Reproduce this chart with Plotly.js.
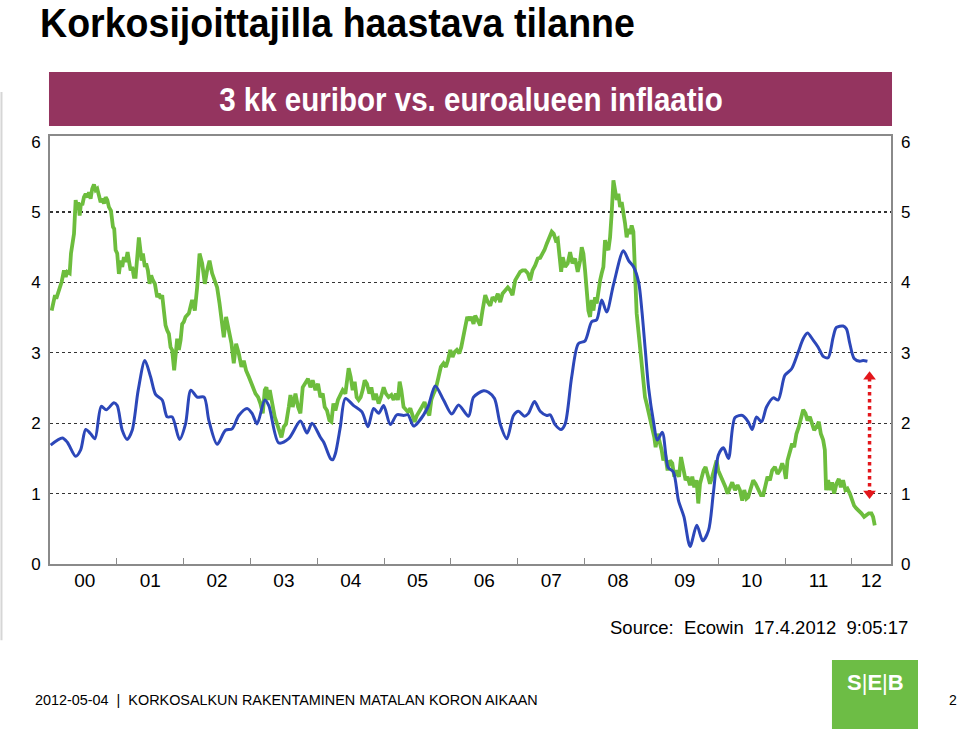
<!DOCTYPE html>
<html>
<head>
<meta charset="utf-8">
<script src="https://cdn.plot.ly/plotly-3.0.1.min.js"></script>
<style>
  html, body { margin: 0; padding: 0; background: #ffffff; }
  #chart { width: 960px; height: 731px; }
</style>
</head>
<body>
<div id="chart"></div>
<script>
// ---------------- DATA ----------------
// 3 kk euribor (green), decimal years and percent
const euriborYears = [
2000.025,2000.045,2000.075,2000.094,2000.124,2000.145,2000.175,2000.209,2000.235,2000.259,2000.294,2000.314,2000.344,2000.359,2000.384,2000.408,2000.423,2000.444,2000.463,2000.483,
2000.508,2000.534,2000.564,2000.583,2000.608,2000.632,2000.658,2000.683,2000.707,2000.732,2000.758,2000.782,2000.807,2000.833,2000.857,2000.882,2000.912,2000.942,2000.961,2000.982,
2001.006,2001.031,2001.057,2001.081,2001.106,2001.132,2001.161,2001.181,2001.206,2001.230,2001.256,2001.281,2001.305,2001.330,2001.350,2001.371,2001.390,2001.420,2001.439,2001.465,
2001.490,2001.514,2001.540,2001.570,2001.604,2001.629,2001.655,2001.679,2001.704,2001.729,2001.753,2001.779,2001.804,2001.828,2001.858,2001.879,2001.903,2001.928,2001.954,2001.978,
2002.003,2002.028,2002.052,2002.078,2002.127,2002.167,2002.202,2002.238,2002.277,2002.317,2002.351,2002.387,2002.426,2002.466,2002.501,2002.537,2002.567,2002.601,2002.635,2002.676,
2002.716,2002.750,2002.785,2002.825,2002.865,2002.900,2002.934,2002.975,2003.015,2003.049,2003.075,2003.114,2003.149,2003.184,2003.214,2003.239,2003.263,2003.289,2003.323,2003.363,
2003.398,2003.433,2003.463,2003.498,2003.532,2003.573,2003.598,2003.632,2003.673,2003.712,2003.747,2003.782,2003.822,2003.861,2003.897,2003.931,2003.972,2004.011,2004.046,2004.081,
2004.111,2004.145,2004.181,2004.211,2004.241,2004.271,2004.309,2004.345,2004.380,2004.420,2004.444,2004.469,2004.499,2004.529,2004.559,2004.589,2004.619,2004.649,2004.679,2004.709,
2004.743,2004.779,2004.809,2004.843,2004.877,2004.918,2004.952,2004.993,2005.027,2005.067,2005.108,2005.142,2005.176,2005.206,2005.232,2005.257,2005.291,2005.326,2005.356,2005.392,
2005.426,2005.456,2005.490,2005.526,2005.565,2005.605,2005.640,2005.676,2005.706,2005.740,2005.774,2005.815,2005.849,2005.889,2005.924,2005.954,2005.990,2006.024,2006.054,2006.088,
2006.124,2006.154,2006.188,2006.214,2006.244,2006.274,2006.303,2006.338,2006.363,2006.402,2006.438,2006.472,2006.513,2006.552,2006.588,2006.622,2006.662,2006.701,2006.737,2006.771,
2006.812,2006.851,2006.886,2006.921,2006.961,2007.000,2007.036,2007.070,2007.111,2007.150,2007.185,2007.220,2007.260,2007.299,2007.335,2007.369,2007.399,2007.434,2007.469,2007.508,
2007.538,2007.568,2007.598,2007.623,2007.649,2007.673,2007.709,2007.747,2007.783,2007.818,2007.858,2007.897,2007.933,2007.957,2007.982,2008.007,2008.031,2008.057,2008.082,2008.106,
2008.132,2008.157,2008.181,2008.206,2008.232,2008.256,2008.281,2008.306,2008.331,2008.356,2008.381,2008.405,2008.431,2008.456,2008.480,2008.505,2008.531,2008.555,2008.580,2008.605,
2008.629,2008.655,2008.680,2008.704,2008.730,2008.744,2008.755,2008.779,2008.804,2008.830,2008.854,2008.879,2008.904,2008.928,2008.954,2008.979,2009.013,2009.043,2009.063,2009.093,
2009.129,2009.153,2009.178,2009.203,2009.242,2009.278,2009.312,2009.342,2009.377,2009.413,2009.443,2009.477,2009.511,2009.541,2009.577,2009.611,2009.641,2009.676,2009.701,2009.727,
2009.750,2009.780,2009.810,2009.840,2009.876,2009.910,2009.940,2009.975,2010.000,2010.040,2010.075,2010.109,2010.139,2010.175,2010.209,2010.250,2010.289,2010.324,2010.359,2010.389,
2010.423,2010.448,2010.489,2010.523,2010.558,2010.598,2010.639,2010.673,2010.707,2010.737,2010.773,2010.807,2010.848,2010.887,2010.922,2010.957,2010.987,2011.012,2011.036,2011.072,
2011.106,2011.136,2011.170,2011.206,2011.236,2011.271,2011.305,2011.335,2011.371,2011.405,2011.435,2011.470,2011.505,2011.535,2011.570,2011.595,2011.614,2011.644,2011.674,2011.704,
2011.734,2011.769,2011.804,2011.834,2011.868,2011.903,2011.933,2011.969,2012.003,2012.033,2012.067,2012.103,2012.142,2012.183,2012.217,2012.253,2012.292,2012.317,2012.342
];
const euriborValues = [
3.60,3.72,3.82,3.77,3.86,3.96,4.01,4.17,4.08,4.15,4.13,4.41,4.57,4.69,5.17,5.05,5.14,4.95,5.12,5.10,
5.21,5.26,5.21,5.28,5.19,5.33,5.39,5.31,5.33,5.21,5.14,5.19,5.12,5.21,5.17,5.07,5.02,4.79,4.76,4.46,
4.41,4.12,4.31,4.22,4.36,4.29,4.43,4.31,4.17,4.22,4.08,4.08,4.41,4.64,4.48,4.31,4.41,4.22,4.27,4.17,
3.98,4.10,4.03,3.98,3.79,3.84,3.77,3.82,3.60,3.39,3.32,3.27,3.08,3.04,2.75,2.94,3.20,3.04,3.18,3.41,
3.44,3.51,3.53,3.56,3.75,3.60,3.93,4.41,4.27,3.98,4.17,4.31,4.13,4.03,3.93,3.70,3.51,3.22,3.51,3.32,
3.13,2.85,3.13,2.99,2.80,2.89,2.75,2.66,2.56,2.51,2.42,2.37,2.28,2.14,2.47,2.51,2.33,2.47,2.28,2.09,
1.99,1.88,1.80,1.95,1.99,2.23,2.40,2.23,2.42,2.23,2.14,2.51,2.56,2.63,2.51,2.61,2.47,2.56,2.37,2.42,
2.23,2.18,2.04,2.02,2.28,2.18,2.33,2.42,2.47,2.42,2.56,2.78,2.66,2.47,2.59,2.37,2.33,2.37,2.47,2.61,
2.56,2.42,2.51,2.33,2.42,2.28,2.37,2.51,2.42,2.37,2.40,2.33,2.42,2.33,2.59,2.47,2.23,2.18,2.16,2.21,
2.09,2.02,2.11,2.16,2.23,2.30,2.18,2.11,2.33,2.42,2.49,2.66,2.80,2.85,2.80,2.89,3.04,2.94,3.01,3.04,
2.99,3.08,3.22,3.37,3.51,3.46,3.51,3.41,3.53,3.46,3.39,3.60,3.82,3.72,3.67,3.79,3.75,3.84,3.72,3.84,
3.89,3.93,3.89,3.82,4.03,4.10,4.15,4.17,4.17,4.13,4.03,4.17,4.24,4.34,4.35,4.41,4.46,4.55,4.64,4.72,
4.69,4.60,4.62,4.36,4.15,4.36,4.22,4.27,4.43,4.27,4.34,4.15,4.31,4.50,4.41,4.17,3.89,3.60,3.51,3.75,
3.60,3.79,3.70,3.89,4.03,4.13,4.22,4.60,4.50,4.46,4.64,4.98,5.45,5.31,5.17,5.26,5.07,5.14,4.93,4.84,
4.64,4.76,4.69,4.81,4.72,4.31,3.93,3.56,3.32,3.04,2.85,2.61,2.37,2.28,2.18,2.04,1.95,1.80,1.66,1.85,
1.71,1.62,1.47,1.57,1.33,1.47,1.43,1.24,1.33,1.24,1.52,1.33,1.19,1.24,1.12,1.24,1.09,1.19,0.86,1.14,
1.24,1.33,1.38,1.28,1.14,1.24,1.33,1.47,1.33,1.24,1.19,1.09,1.00,1.09,1.16,1.05,1.12,1.05,0.90,1.05,
0.93,0.95,1.09,1.19,1.14,1.07,0.98,0.98,1.14,1.24,1.19,1.33,1.38,1.28,1.33,1.43,1.35,1.21,1.47,1.62,
1.71,1.66,1.85,1.95,2.07,2.19,2.14,2.04,2.09,1.99,1.90,1.95,2.02,1.85,1.76,1.62,1.05,1.19,1.05,1.16,
1.00,1.14,1.21,1.09,1.19,1.05,1.07,1.00,0.90,0.83,0.79,0.76,0.72,0.67,0.69,0.72,0.72,0.67,0.55
];

// euroalueen inflaatio (blue)
const inflationYears = [
2000.010,2000.184,2000.259,2000.384,2000.459,2000.534,2000.608,2000.673,2000.767,2000.842,2000.957,2001.006,2001.081,2001.155,2001.230,2001.320,2001.420,2001.505,2001.580,2001.679,
2001.753,2001.828,2001.939,2002.028,2002.108,2002.202,2002.306,2002.377,2002.501,2002.626,2002.725,2002.825,2002.949,2003.024,2003.099,2003.214,2003.274,2003.423,2003.572,2003.747,
2003.846,2003.921,2004.046,2004.096,2004.196,2004.230,2004.271,2004.345,2004.420,2004.544,2004.668,2004.758,2004.843,2004.918,2004.993,2005.093,2005.191,2005.291,2005.356,2005.441,
2005.516,2005.655,2005.765,2005.889,2006.013,2006.114,2006.263,2006.338,2006.487,2006.562,2006.652,2006.737,2006.836,2006.936,2007.010,2007.100,2007.160,2007.250,2007.335,2007.433,
2007.484,2007.559,2007.649,2007.709,2007.807,2007.907,2008.007,2008.106,2008.181,2008.256,2008.330,2008.435,2008.580,2008.659,2008.734,2008.809,2008.857,2008.909,2008.958,2009.033,
2009.088,2009.163,2009.250,2009.327,2009.405,2009.487,2009.578,2009.679,2009.768,2009.855,2009.928,2010.003,2010.078,2010.153,2010.251,2010.363,2010.448,2010.508,2010.572,2010.647,
2010.722,2010.822,2010.897,2010.997,2011.096,2011.196,2011.271,2011.335,2011.420,2011.495,2011.570,2011.644,2011.719,2011.768,2011.868,2011.918,2011.969,2012.033,2012.118,2012.167,
2012.232
];
const inflationValues = [
1.69,1.79,1.73,1.53,1.62,1.91,1.85,1.78,2.24,2.19,2.29,2.25,1.90,1.77,1.90,2.47,2.89,2.66,2.41,2.33,
2.09,2.09,1.77,1.99,2.47,2.37,2.37,2.04,1.70,1.90,1.92,2.11,2.21,2.14,1.99,2.33,2.25,1.72,1.78,2.03,
1.86,2.00,1.80,1.73,1.50,1.48,1.57,1.95,2.35,2.25,2.16,1.95,2.21,2.14,2.25,1.98,2.12,2.11,2.12,1.96,
2.02,2.23,2.53,2.33,2.13,2.26,2.10,2.37,2.46,2.44,2.35,1.99,1.78,2.11,2.17,2.10,2.14,2.31,2.17,2.11,
2.12,1.98,1.91,1.99,2.66,3.13,3.17,3.44,3.47,3.75,3.58,3.98,4.45,4.31,4.22,4.00,3.60,3.03,2.50,2.01,
1.76,1.87,1.37,1.31,0.90,0.67,0.25,0.55,0.33,0.48,1.02,1.55,1.65,1.50,2.08,2.11,2.02,1.91,2.09,2.02,
2.23,2.36,2.33,2.68,2.77,3.01,3.20,3.28,3.18,3.08,2.95,2.93,3.22,3.36,3.38,3.34,3.13,2.92,2.88,2.89,
2.88
];

// Gap marker (euribor vs. inflation, April 2012)
const gapYears = [2012.264, 2012.264];
const gapValues = [1.00, 2.66];

// Axis labels
const yearBoundaries = [2001,2002,2003,2004,2005,2006,2007,2008,2009,2010,2011,2012];
const yearLabelPos = [2000.52,2001.5,2002.5,2003.5,2004.5,2005.5,2006.5,2007.5,2008.5,2009.5,2010.5,2011.5,2012.29];
const yearLabels = ['00','01','02','03','04','05','06','07','08','09','10','11','12'];
const yTicks = [0,1,2,3,4,5,6];
const yGrid = [1,2,3,4,5];

// ---------------- CHART ----------------
const GREEN = '#6dbd3d';
const BLUE = '#2c47b9';
const RED = '#e3161b';
const FONT = 'Liberation Sans, Arial, Helvetica, sans-serif';

const traces = [
  {
    x: euriborYears, y: euriborValues, type: 'scatter', mode: 'lines',
    line: {color: GREEN, width: 3.8}, hoverinfo: 'skip', name: '3 kk euribor'
  },
  {
    x: inflationYears, y: inflationValues, type: 'scatter', mode: 'lines',
    line: {color: BLUE, width: 3, shape: 'spline', smoothing: 0.8}, hoverinfo: 'skip', name: 'inflaatio'
  },
  {
    x: gapYears, y: gapValues, type: 'scatter', mode: 'lines+markers',
    xaxis: 'x2', yaxis: 'y2',
    line: {color: RED, width: 3.5, dash: 'dot'},
    marker: {color: RED, size: 11, symbol: ['triangle-down', 'triangle-up']},
    hoverinfo: 'skip'
  }
];

const X0 = 2000, X1 = 2012.585, Y0 = 0, Y1 = 6.08;

const layout = {
  width: 960, height: 731,
  paper_bgcolor: '#ffffff', plot_bgcolor: '#ffffff',
  showlegend: false,
  margin: {l: 50, r: 69, t: 136, b: 167},
  font: {family: FONT, color: '#000000'},
  title: {
    text: '<b>Korkosijoittajilla haastava tilanne</b>',
    font: {family: FONT, size: 40, color: '#000000'},
    xref: 'container', yref: 'container',
    x: 0.0417, xanchor: 'left', y: 0.9685, yanchor: 'middle',
    pad: {l: 0, r: 0, t: 0, b: 0}
  },
  xaxis: {
    range: [X0, X1], type: 'linear',
    tickmode: 'array', tickvals: yearBoundaries, showticklabels: false,
    ticks: 'inside', ticklen: 6, tickwidth: 1, tickcolor: '#8a8a8a',
    showline: true, linecolor: '#8a8a8a', linewidth: 2, mirror: true,
    showgrid: false, zeroline: false
  },
  xaxis2: {
    range: [X0, X1], type: 'linear', overlaying: 'x', anchor: 'y', side: 'bottom',
    tickmode: 'array', tickvals: yearLabelPos, ticktext: yearLabels,
    ticks: '', ticklabelstandoff: 3,
    tickfont: {family: FONT, size: 19, color: '#000000'},
    showline: false, showgrid: false, zeroline: false
  },
  yaxis: {
    range: [Y0, Y1],
    tickmode: 'array', tickvals: yTicks, ticks: '',
    tickfont: {family: FONT, size: 17, color: '#000000'},
    ticklabelstandoff: 4,
    showline: true, linecolor: '#8a8a8a', linewidth: 2, mirror: true,
    showgrid: false, zeroline: false,
    minor: {tickmode: 'array', tickvals: yGrid, showgrid: true, gridcolor: '#333333', gridwidth: 1.3, griddash: 'dot', ticks: ''}
  },
  yaxis2: {
    range: [Y0, Y1], overlaying: 'y', side: 'right', anchor: 'x',
    tickmode: 'array', tickvals: yTicks, ticks: '',
    tickfont: {family: FONT, size: 17, color: '#000000'},
    ticklabelstandoff: 9,
    showline: false, showgrid: false, zeroline: false
  },
  shapes: [
    {type: 'rect', xref: 'paper', yref: 'paper', x0: -0.0012, x1: 1.0012, y0: 1.0234, y1: 1.1495,
     fillcolor: '#94345f', line: {width: 0}, layer: 'above'},
    {type: 'rect', xref: 'paper', yref: 'paper', x0: 0.9298, x1: 1.0321, y0: -0.3855, y1: -0.2243,
     fillcolor: '#6dbd45', line: {width: 0}},
    {type: 'line', xref: 'paper', yref: 'paper', x0: -0.0577, x1: -0.0577, y0: 1.103, y1: -0.178,
     line: {color: '#d6d6d6', width: 2}}
  ],
  annotations: [
    {text: '<b>3 kk euribor vs. euroalueen inflaatio</b>', xref: 'paper', yref: 'paper',
     x: 0.5, y: 1.0871, xanchor: 'center', yanchor: 'middle', showarrow: false,
     font: {family: FONT, size: 34, color: '#ffffff'}},
    {text: 'Source:  Ecowin  17.4.2012  9:05:17', xref: 'paper', yref: 'paper',
     x: 1.0226, y: -0.1472, xanchor: 'right', yanchor: 'middle', showarrow: false,
     font: {family: FONT, size: 18.5, color: '#000000'}},
    {text: '2012-05-04  |  KORKOSALKUN RAKENTAMINEN MATALAN KORON AIKAAN', xref: 'paper', yref: 'paper',
     x: -0.0202, y: -0.3178, xanchor: 'left', yanchor: 'middle', showarrow: false,
     font: {family: FONT, size: 14.4, color: '#000000'}},
    {text: '<b>S</b>|<b>E</b>|<b>B</b>', xref: 'paper', yref: 'paper',
     x: 0.981, y: -0.278, xanchor: 'center', yanchor: 'middle', showarrow: false,
     font: {family: FONT, size: 22, color: '#ffffff'}},
    {text: '2', xref: 'paper', yref: 'paper',
     x: 1.0737, y: -0.3178, xanchor: 'center', yanchor: 'middle', showarrow: false,
     font: {family: FONT, size: 14, color: '#000000'}}
  ]
};

// Condense a text horizontally to the reference width (the originals use a condensed typeface)
function condense(el, targetWidth, anchor) {
  if (!el) return;
  const bb = el.getBBox();
  if (!bb.width) return;
  const s = targetWidth / bb.width;
  const ax = anchor === 'left' ? bb.x : bb.x + bb.width / 2;
  const prev = el.getAttribute('transform') || '';
  el.setAttribute('transform', prev + ' translate(' + ax + ',0) scale(' + s + ',1) translate(' + (-ax) + ',0)');
}

Plotly.newPlot('chart', traces, layout, {staticPlot: true, displayModeBar: false}).then(function (gd) {
  condense(gd.querySelector('.gtitle'), 595, 'left');
  const ann = gd.querySelectorAll('.annotation-text');
  condense(ann[0], 504, 'center');
});
</script>
</body>
</html>
